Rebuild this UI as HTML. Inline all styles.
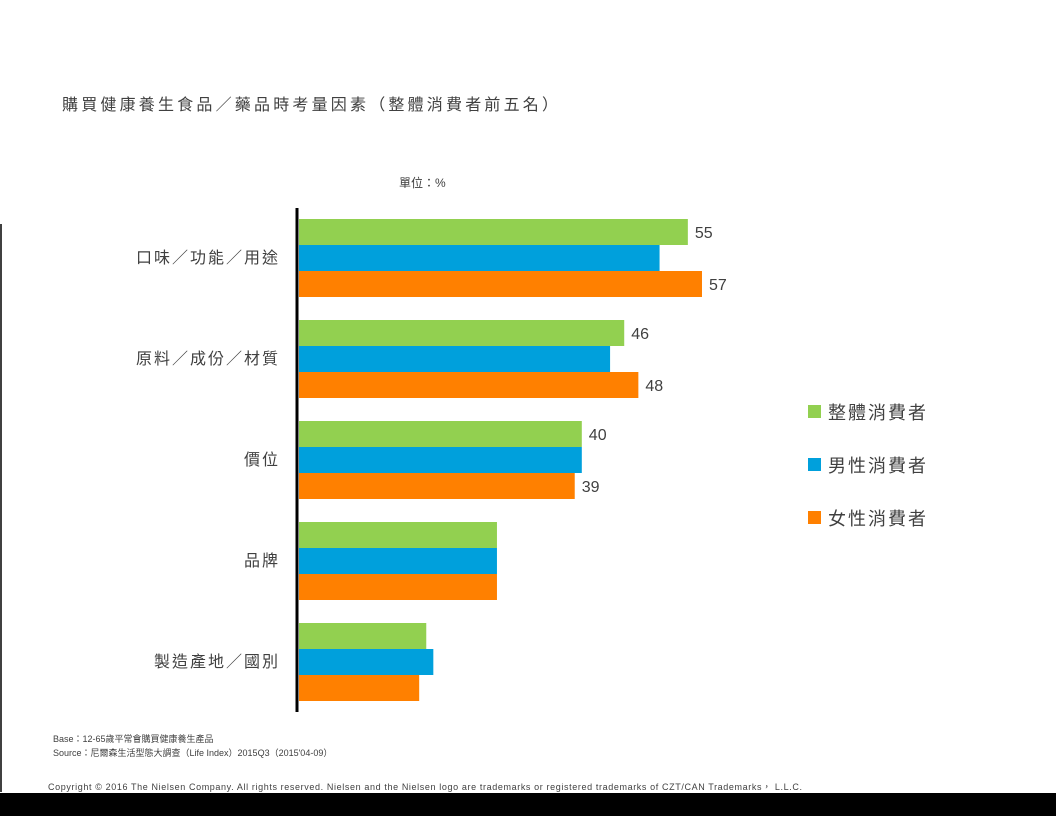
<!DOCTYPE html>
<html><head><meta charset="utf-8">
<style>
html,body{margin:0;padding:0;background:#fff;}
svg{display:block;font-family:"Liberation Sans","Noto Sans CJK TC",sans-serif;}
</style></head>
<body>
<svg width="1056" height="816" viewBox="0 0 1056 816" xmlns="http://www.w3.org/2000/svg">
<rect x="0" y="0" width="1056" height="816" fill="#fff"/>
<text x="62" y="110" font-size="16" letter-spacing="3.2" fill="#404040">購買健康養生食品／藥品時考量因素（整體消費者前五名）</text>
<text x="399" y="187" font-size="12" fill="#404040">單位：%</text>
<line x1="1" y1="224" x2="1" y2="792" stroke="#000" stroke-width="1.5"/>
<g id="bars"></g>
<line x1="297" y1="208" x2="297" y2="712" stroke="#000" stroke-width="3"/>
<g id="legend"></g>
<text x="53" y="742" font-size="9" fill="#404040">Base：12-65歲平常會購買健康養生產品</text>
<text x="53" y="756" font-size="9" fill="#404040">Source：尼爾森生活型態大調查（Life Index）2015Q3（2015'04-09）</text>
<text x="48" y="790" font-size="9" fill="#404040" textLength="754">Copyright © 2016 The Nielsen Company. All rights reserved. Nielsen and the Nielsen logo are trademarks or registered trademarks of CZT/CAN Trademarks， L.L.C.</text>
<rect x="0" y="793" width="1056" height="23" fill="#000"/>
</svg>
<script>
const categories = ["口味／功能／用途","原料／成份／材質","價位","品牌","製造產地／國別"];
const seriesNames = ["整體消費者","男性消費者","女性消費者"];
const totalValues = [55,46,40,28,18];
const maleValues = [51,44,40,28,19];
const femaleValues = [57,48,39,28,17];
const labeledSeries = [0,2];
const colors = ["#92d050","#00a0dc","#ff8000"];
const NS = "http://www.w3.org/2000/svg";
const x0 = 299, pxPerUnit = 7.07;
const xScale = v => x0 + v * pxPerUnit;
const groupTop = i => 219 + i * 101;
const barH = 26;
const bars = document.getElementById("bars");
const all = [totalValues, maleValues, femaleValues];
categories.forEach((c, i) => {
  const t = document.createElementNS(NS, "text");
  
  
  t.setAttribute("x", 280); t.setAttribute("y", groupTop(i) + 44);
  t.setAttribute("text-anchor", "end"); t.setAttribute("font-size", "16");
  t.setAttribute("letter-spacing", "2"); t.setAttribute("fill", "#404040");
  t.textContent = c; bars.appendChild(t);
  all.forEach((vals, s) => {
    const r = document.createElementNS(NS, "rect");
    
    
    const y = groupTop(i) + s * barH;
    r.setAttribute("x", x0); r.setAttribute("y", y);
    r.setAttribute("width", xScale(vals[i]) - x0); r.setAttribute("height", barH);
    r.setAttribute("fill", colors[s]); bars.appendChild(r);
    if (i < 3 && labeledSeries.includes(s)) {
      const l = document.createElementNS(NS, "text");
      
      
      l.setAttribute("x", xScale(vals[i]) + 7); l.setAttribute("y", y + 19);
      l.setAttribute("font-size", "16"); l.setAttribute("fill", "#404040");
      l.textContent = vals[i]; bars.appendChild(l);
    }
  });
});
const lg = document.getElementById("legend");
seriesNames.forEach((n, s) => {
  const y = 412 + s * 53;
  const r = document.createElementNS(NS, "rect");
  
  
  r.setAttribute("x", 808); r.setAttribute("y", y - 7);
  r.setAttribute("width", 13); r.setAttribute("height", 13);
  r.setAttribute("fill", colors[s]); lg.appendChild(r);
  const t = document.createElementNS(NS, "text");
  
  
  t.setAttribute("x", 828); t.setAttribute("y", y + 7);
  t.setAttribute("font-size", "18"); t.setAttribute("letter-spacing", "2");
  t.setAttribute("fill", "#404040"); t.textContent = n; lg.appendChild(t);
});
</script>
</body></html>
